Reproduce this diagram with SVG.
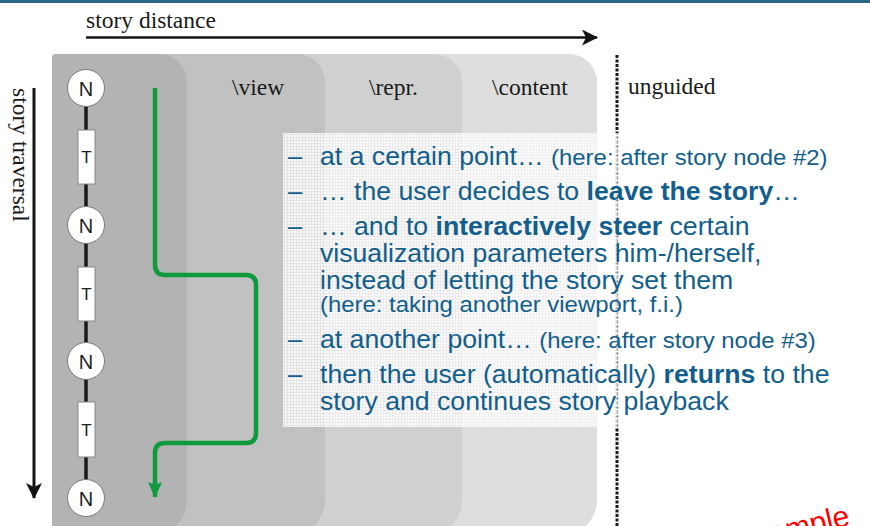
<svg xmlns="http://www.w3.org/2000/svg" width="870" height="526" viewBox="0 0 870 526">
  <defs>
    <style>
      .serif { font-family: "Liberation Serif", "Times New Roman", serif; font-size: 23.5px; fill: #1a1a1a; }
      .bul { font-family: "Liberation Sans", Arial, sans-serif; font-size: 25.5px; fill: #125e8c; }
      .sm { font-size: 22.9px; }
      .b { font-weight: bold; }
      .node-n circle { fill: #ffffff; stroke: #7a7a7a; stroke-width: 1; }
      .node-t rect { fill: #ffffff; stroke: #8a8a8a; stroke-width: 1; }
      .lbl { font-family: "Liberation Sans", Arial, sans-serif; fill: #1e1e1e; text-anchor: middle; }
      .green { fill: none; stroke: #109a3e; stroke-width: 4.5; stroke-linejoin: round; }
    </style>
    <marker id="arrowBlack" viewBox="0 0 16 16" refX="15" refY="8" markerWidth="16" markerHeight="16" markerUnits="userSpaceOnUse" orient="auto">
      <path d="M0,0 L16,8 L0,16 L4,8 Z" fill="#141414"/>
    </marker>
    <marker id="arrowGreen" viewBox="0 0 16 14" refX="15" refY="7" markerWidth="16" markerHeight="14" markerUnits="userSpaceOnUse" orient="auto">
      <path d="M0,0 L16,7 L0,14 L3,7 Z" fill="#109a3e"/>
    </marker>
    <pattern id="grid" width="3" height="3" patternUnits="userSpaceOnUse">
      <rect x="0" y="0" width="2" height="2" fill="#ffffff" fill-opacity="0.75"/>
    </pattern>
  </defs>

  <rect x="0" y="0" width="870" height="526" fill="#ffffff"/>
  <!-- header rule -->
  <rect x="0" y="0" width="870" height="3" fill="#2b6888"/>

  <!-- nested level panels -->
  <g id="panels">
    <path d="M52,58 Q52,54 56,54 L569,54 A28,28 0 0 1 597,82 L597,500 A36,36 0 0 1 561,536 L52,536 Z" fill="#dedede"/>
    <path d="M52,58 Q52,54 56,54 L434,54 A28,28 0 0 1 462,82 L462,500 A36,36 0 0 1 426,536 L52,536 Z" fill="#d0d0d0"/>
    <path d="M52,58 Q52,54 56,54 L297,54 A28,28 0 0 1 325,82 L325,500 A36,36 0 0 1 289,536 L52,536 Z" fill="#c1c1c1"/>
    <path d="M52,58 Q52,54 56,54 L159,54 A28,28 0 0 1 187,82 L187,500 A36,36 0 0 1 151,536 L52,536 Z" fill="#b4b3b3"/>
  </g>

  <!-- axis labels -->
  <text class="serif" x="86" y="28">story distance</text>
  <text class="serif" transform="translate(13,88) rotate(90)">story traversal</text>
  <text class="serif" x="232" y="95">\view</text>
  <text class="serif" x="369" y="95">\repr.</text>
  <text class="serif" x="492" y="95" font-size="24.5">\content</text>
  <text class="serif" x="628" y="94">unguided</text>

  <g id="connectors">
    <line x1="86" y1="37.5" x2="597" y2="37.5" stroke="#141414" stroke-width="2.5" marker-end="url(#arrowBlack)"/>
    <line x1="34" y1="88" x2="34" y2="498" stroke="#141414" stroke-width="3" marker-end="url(#arrowBlack)"/>
    <line x1="617" y1="55" x2="617" y2="526" stroke="#1a1a1a" stroke-width="3" stroke-dasharray="3,1.5"/>
    <!-- story chain -->
    <line x1="86" y1="88" x2="86" y2="498" stroke="#1a1a1a" stroke-width="3.5"/>
    <!-- user path leaving and returning to the story -->
    <path class="green" d="M155,88 L155,265 Q155,275 165,275 L246,275 Q256,275 256,285 L256,433 Q256,443 246,443 L165,443 Q155,443 155,453 L155,497" marker-end="url(#arrowGreen)"/>
  </g>

  <g id="node-n1" class="node-n"><circle cx="86" cy="88" r="18.5"/><text class="lbl" x="86" y="95.5" font-size="20">N</text></g>
  <g id="node-t1" class="node-t"><rect x="78" y="130" width="17" height="54"/><text class="lbl" x="86.5" y="163" font-size="17">T</text></g>
  <g id="node-n2" class="node-n"><circle cx="86" cy="225" r="18.5"/><text class="lbl" x="86" y="232.5" font-size="20">N</text></g>
  <g id="node-t2" class="node-t"><rect x="78" y="267" width="17" height="54"/><text class="lbl" x="86.5" y="300" font-size="17">T</text></g>
  <g id="node-n3" class="node-n"><circle cx="86" cy="361" r="18.5"/><text class="lbl" x="86" y="368.5" font-size="20">N</text></g>
  <g id="node-t3" class="node-t"><rect x="78" y="402" width="17" height="55"/><text class="lbl" x="86.5" y="436" font-size="17">T</text></g>
  <g id="node-n4" class="node-n"><circle cx="86" cy="498" r="18.5"/><text class="lbl" x="86" y="505.5" font-size="20">N</text></g>

  <!-- explanation box -->
  <g id="notes">
    <rect x="283" y="133" width="338" height="294" fill="#ffffff" fill-opacity="0.55"/>
    <rect x="283" y="133" width="338" height="294" fill="url(#grid)"/>
    <g class="bul">
      <text x="288" y="165">–</text>
      <text x="288" y="200">–</text>
      <text x="288" y="235">–</text>
      <text x="288" y="348">–</text>
      <text x="288" y="383">–</text>
    </g>
    <!-- bullet text runs slightly wide -->
    <g class="bul" transform="translate(320,0) scale(1.045,1) translate(-320,0)">
      <text x="320" y="165">at a certain point… <tspan class="sm">(here: after story node #2)</tspan></text>
      <text x="320" y="200">… the user decides to <tspan class="b">leave the story</tspan>…</text>
      <text x="320" y="235">… and to <tspan class="b">interactively steer</tspan> certain</text>
      <text x="320" y="262">visualization parameters him-/herself,</text>
      <text x="320" y="289">instead of letting the story set them</text>
      <text x="320" y="312" class="sm">(here: taking another viewport, f.i.)</text>
      <text x="320" y="348">at another point… <tspan class="sm">(here: after story node #3)</tspan></text>
      <text x="320" y="383">then the user (automatically) <tspan class="b">returns</tspan> to the</text>
      <text x="320" y="410">story and continues story playback</text>
    </g>
  </g>

  <text x="851" y="525" transform="rotate(-13 851 525)" text-anchor="end" font-family="Liberation Sans, Arial, sans-serif" font-size="30" fill="#ff0000">example</text>
</svg>
